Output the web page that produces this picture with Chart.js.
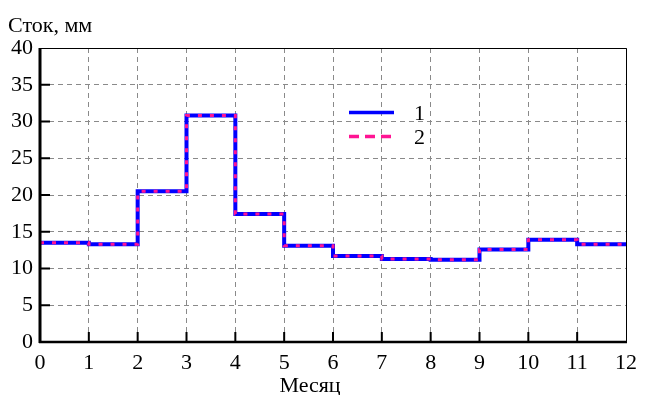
<!DOCTYPE html>
<html>
<head>
<meta charset="utf-8">
<script src="https://cdn.jsdelivr.net/npm/chart.js@4"></script>
<style>
    body { margin: 0; background: #fff; }
    #wrap { width: 645px; height: 395px; }
</style>
</head>
<body>
<div id="wrap"><canvas id="grafico" width="645" height="395"></canvas></div>
<script>
// месяцы 0..12, сток по месяцам (мм)
const meses = [0, 1, 2, 3, 4, 5, 6, 7, 8, 9, 10, 11, 12];
const stok1 = [13.5, 13.3, 20.5, 30.8, 17.4, 13.1, 11.7, 11.3, 11.2, 12.6, 13.9, 13.3];
const stok2 = [13.5, 13.3, 20.5, 30.8, 17.4, 13.1, 11.7, 11.3, 11.2, 12.6, 13.9, 13.3];
const legendas = ['1', '2'];
const yTicks = [0, 5, 10, 15, 20, 25, 30, 35, 40];

const FONTE = 'Liberation Serif';

// cada valor vale do mês i até i+1, o último ponto fecha o degrau em 12
function degraus(valores) {
    const pts = valores.map((v, i) => ({ x: meses[i], y: v }));
    pts.push({ x: meses[meses.length - 1], y: valores[valores.length - 1] });
    return pts;
}

const molduraPlugin = {
    id: 'moldura',
    afterDraw(chart) {
        const ctx = chart.ctx;
        const a = chart.chartArea;
        const sx = chart.scales.x;
        const sy = chart.scales.y;
        ctx.save();
        ctx.strokeStyle = '#000';
        ctx.setLineDash([]);

        // topo e direita finos
        ctx.lineWidth = 1;
        ctx.beginPath();
        ctx.moveTo(a.left, a.top + 0.5);
        ctx.lineTo(a.right + 0.5, a.top + 0.5);
        ctx.lineTo(a.right + 0.5, a.bottom);
        ctx.stroke();

        // eixos grossos
        ctx.lineWidth = 3;
        ctx.beginPath();
        ctx.moveTo(a.left, a.top);
        ctx.lineTo(a.left, a.bottom + 1);
        ctx.stroke();
        ctx.lineWidth = 2.5;
        ctx.beginPath();
        ctx.moveTo(a.left - 1, a.bottom);
        ctx.lineTo(a.right + 1, a.bottom);
        ctx.stroke();

        // marcas para dentro
        ctx.lineWidth = 2;
        ctx.beginPath();
        yTicks.slice(1, -1).forEach(v => {
            const py = sy.getPixelForValue(v);
            ctx.moveTo(a.left, py);
            ctx.lineTo(a.left + 10, py);
        });
        meses.slice(1, -1).forEach(m => {
            const px = sx.getPixelForValue(m);
            ctx.moveTo(px, a.bottom);
            ctx.lineTo(px, a.bottom - 10);
        });
        ctx.stroke();

        // títulos
        ctx.fillStyle = '#000';
        ctx.font = '22px "' + FONTE + '"';
        ctx.textAlign = 'left';
        ctx.textBaseline = 'alphabetic';
        ctx.fillText('Сток, мм', 8, 32);
        ctx.textAlign = 'center';
        ctx.fillText('Месяц', 310, 392);

        // legenda
        const itens = chart.data.datasets;
        const ys = [112.5, 136.5];
        itens.forEach((ds, i) => {
            ctx.strokeStyle = ds.borderColor;
            ctx.lineWidth = 3.5;
            ctx.setLineDash(i === 1 ? [10, 6] : []);
            ctx.beginPath();
            ctx.moveTo(349, ys[i]);
            ctx.lineTo(394, ys[i]);
            ctx.stroke();
            ctx.setLineDash([]);
            ctx.textAlign = 'left';
            ctx.fillText(ds.label, 414, ys[i] + 7.5);
        });
        ctx.restore();
    }
};

const canvasContext = document.getElementById('grafico').getContext('2d');
new Chart(canvasContext, {
    type: 'line',
    data: {
        datasets: [
            {
                label: legendas[0],
                data: degraus(stok1),
                borderColor: '#0000ff',
                borderWidth: 4,
                stepped: true,
                pointRadius: 0,
                fill: false,
                order: 2,
            },
            {
                label: legendas[1],
                data: degraus(stok2),
                borderColor: '#ff1493',
                borderWidth: 3,
                borderDash: [4, 8],
                stepped: true,
                pointRadius: 0,
                fill: false,
                order: 1,
            }
        ]
    },
    options: {
        responsive: false,
        animation: false,
        layout: {
            padding: { top: 48, right: 13, left: 0, bottom: 0 }
        },
        plugins: {
            legend: { display: false },
            tooltip: { enabled: false },
        },
        scales: {
            x: {
                type: 'linear',
                min: 0,
                max: 12,
                afterBuildTicks: s => { s.ticks = meses.map(v => ({ value: v })); },
                afterFit: s => { s.height = 53; },
                ticks: {
                    color: '#000',
                    font: { family: FONTE, size: 22 },
                    padding: 8,
                    maxRotation: 0,
                    autoSkip: false,
                },
                grid: {
                    color: '#8a8a8a',
                    lineWidth: 1,
                    drawTicks: false,
                },
                border: { display: false, dash: [5, 4] },
            },
            y: {
                min: 0,
                max: 40,
                afterBuildTicks: s => { s.ticks = yTicks.map(v => ({ value: v })); },
                afterFit: s => { s.width = 40; },
                ticks: {
                    color: '#000',
                    font: { family: FONTE, size: 22 },
                    padding: 7,
                },
                grid: {
                    color: '#8a8a8a',
                    lineWidth: 1,
                    drawTicks: false,
                },
                border: { display: false, dash: [5, 4] },
            }
        }
    },
    plugins: [molduraPlugin]
});
</script>
</body>
</html>
